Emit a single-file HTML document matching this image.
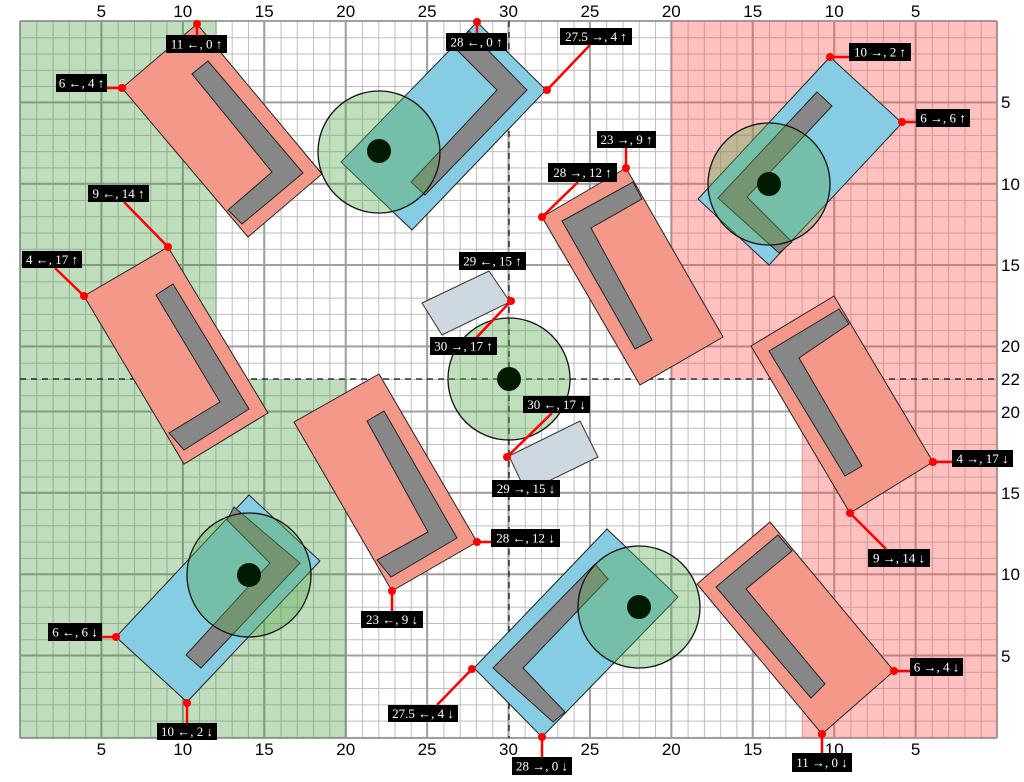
<!DOCTYPE html>
<html><head><meta charset="utf-8"><style>
html,body{margin:0;padding:0;background:#fff;}
svg{display:block;}
.lb rect{fill:#000;}
.lb text{fill:#fff;font-family:"Liberation Serif",serif;font-size:13px;text-anchor:middle;}
.ax{font-family:"Liberation Sans",sans-serif;font-size:17px;fill:#000;}
.sal{fill:#f4998a;stroke:#222;stroke-width:1;}
.blu{fill:#86cce3;stroke:#222;stroke-width:1;}
.ell{fill:#878787;stroke:#222;stroke-width:1;}
.cir{fill:rgba(90,170,80,0.38);stroke:#111;stroke-width:1.3;}
.pale{fill:#cdd8e0;stroke:#333;stroke-width:1;}
.ld{stroke:#f00;stroke-width:2.5;fill:none;}
.dt{fill:#f00;}
</style></head><body>
<svg width="1024" height="782" viewBox="0 0 1024 782" xmlns="http://www.w3.org/2000/svg">
<defs>
<pattern id="g" x="20" y="21" width="16.283" height="16.27" patternUnits="userSpaceOnUse">
<path d="M0 0.5H16.283M0.5 0V16.27" stroke="#bdbdbd" stroke-width="1"/>
</pattern>
</defs>
<rect x="20" y="21" width="977" height="717" fill="url(#g)"/>
<g stroke="#a0a0a0" stroke-width="2">
<line x1="20" y1="21" x2="20" y2="738"/><line x1="101.4" y1="21" x2="101.4" y2="738"/><line x1="182.8" y1="21" x2="182.8" y2="738"/><line x1="264.2" y1="21" x2="264.2" y2="738"/><line x1="345.7" y1="21" x2="345.7" y2="738"/><line x1="427.1" y1="21" x2="427.1" y2="738"/><line x1="508.5" y1="21" x2="508.5" y2="738"/><line x1="589.9" y1="21" x2="589.9" y2="738"/><line x1="671.3" y1="21" x2="671.3" y2="738"/><line x1="752.7" y1="21" x2="752.7" y2="738"/><line x1="834.2" y1="21" x2="834.2" y2="738"/><line x1="915.6" y1="21" x2="915.6" y2="738"/><line x1="997" y1="21" x2="997" y2="738"/>
<line x1="20" y1="21" x2="997" y2="21"/><line x1="20" y1="102.4" x2="997" y2="102.4"/><line x1="20" y1="183.7" x2="997" y2="183.7"/><line x1="20" y1="265" x2="997" y2="265"/><line x1="20" y1="346.4" x2="997" y2="346.4"/><line x1="20" y1="411.5" x2="997" y2="411.5"/><line x1="20" y1="492.8" x2="997" y2="492.8"/><line x1="20" y1="574.2" x2="997" y2="574.2"/><line x1="20" y1="655.5" x2="997" y2="655.5"/><line x1="20" y1="738" x2="997" y2="738"/>
</g>
<!-- regions -->
<path d="M20 21H217V379H347V738H20Z" fill="rgba(60,150,50,0.32)"/>
<path d="M671 21H997V738H802V379H671Z" fill="rgba(255,80,80,0.36)"/>
<!-- dashed -->
<line x1="509" y1="21" x2="509" y2="738" stroke="#111" stroke-width="1.3" stroke-dasharray="6,5"/>
<line x1="20" y1="379" x2="997" y2="379" stroke="#111" stroke-width="1.3" stroke-dasharray="6,5"/>

<!-- shapes -->
<polygon class="sal" points="197,24 122,88 248,237 322,174"/>
<polygon class="ell" points="208,61 303,173 242,224 228,210 272,172 192,74"/>

<polygon class="blu" points="477,22 546,90 412,230 341,162"/>
<polygon class="ell" points="469,31 527,90 425,195 411,182 497,90 452,45"/>
<circle class="cir" cx="379" cy="152" r="61"/>
<circle cx="379" cy="151" r="12" fill="#001a00"/>

<polygon class="sal" points="168,247 84,296 184,464 268,413"/>
<polygon class="ell" points="173,284 249,409 184,450 169,433 220,402 156,295"/>

<polygon class="sal" points="379,374 294,422 392,591 477,542"/>
<polygon class="ell" points="384,411 457,538 391,577 377,560 428,532 367,421"/>

<polygon class="blu" points="249,495 320,561 187,702 116,637"/>
<polygon class="ell" points="234,507 300,563 201,668 186,655 270,563 227,520"/>
<circle class="cir" cx="249" cy="575" r="62"/>
<circle cx="249" cy="575" r="12" fill="#001a00"/>

<polygon class="blu" points="607,529 678,597 542,737 474,668"/>
<polygon class="ell" points="595,564 608,579 523,668 565,712 553,722 493,668"/>
<circle class="cir" cx="639" cy="607" r="61"/>
<circle cx="639" cy="607" r="12" fill="#001a00"/>

<polygon class="sal" points="770,522 697,584 822,734 894,671"/>
<polygon class="ell" points="778,535 792,551 746,589 825,684 811,698 716,587"/>

<polygon class="sal" points="834,296 751,346 850,513 933,462"/>
<polygon class="ell" points="839,309 849,324 799,358 862,466 845,476 769,351"/>

<polygon class="sal" points="626,168 542,217 640,385 723,337"/>
<polygon class="ell" points="633,182 642,199 591,228 652,340 635,349 562,221"/>

<polygon class="blu" points="830,57 902,123 769,265 698,199"/>
<polygon class="ell" points="817,92 832,106 747,197 792,242 779,253 718,198"/>
<circle class="cir" cx="769" cy="184" r="61"/>
<circle cx="769" cy="184" r="12" fill="#001a00"/>

<polygon class="pale" points="422,303 489,271 510,302 442,335"/>
<polygon class="pale" points="509,456 580,421 598,457 526,492"/>
<circle class="cir" cx="509" cy="379" r="61"/>
<circle cx="509" cy="379" r="12" fill="#001a00"/>

<!-- leaders -->
<g class="ld">
<line x1="197" y1="24" x2="197" y2="36"/>
<line x1="122" y1="88" x2="107" y2="88"/>
<line x1="124" y1="202" x2="168" y2="247"/>
<line x1="55" y1="268" x2="84" y2="296"/>
<line x1="477" y1="22" x2="477" y2="34"/>
<line x1="511" y1="301" x2="476" y2="338"/>
<line x1="590" y1="45" x2="547" y2="90"/>
<line x1="830" y1="57" x2="849" y2="57"/>
<line x1="902" y1="122" x2="916" y2="122"/>
<line x1="626" y1="148" x2="626" y2="168"/>
<line x1="578" y1="182" x2="542" y2="217"/>
<line x1="552" y1="413" x2="507" y2="457"/>
<line x1="477" y1="542" x2="491" y2="542"/>
<line x1="392" y1="591" x2="392" y2="611"/>
<line x1="116" y1="637" x2="102" y2="637"/>
<line x1="187" y1="703" x2="187" y2="723"/>
<line x1="437" y1="705" x2="472" y2="669"/>
<line x1="542" y1="737" x2="542" y2="757"/>
<line x1="822" y1="734" x2="822" y2="753"/>
<line x1="894" y1="671" x2="910" y2="671"/>
<line x1="886" y1="549" x2="850" y2="513"/>
<line x1="933" y1="462" x2="952" y2="462"/>
</g>
<g class="dt">
<circle cx="197" cy="24" r="4"/><circle cx="122" cy="88" r="4"/><circle cx="168" cy="247" r="4"/><circle cx="84" cy="296" r="4"/>
<circle cx="477" cy="22" r="4"/><circle cx="511" cy="301" r="4"/><circle cx="547" cy="90" r="4"/><circle cx="830" cy="57" r="4"/>
<circle cx="902" cy="122" r="4"/><circle cx="626" cy="168" r="4"/><circle cx="542" cy="217" r="4"/><circle cx="507" cy="457" r="4"/>
<circle cx="477" cy="542" r="4"/><circle cx="392" cy="591" r="4"/><circle cx="116" cy="637" r="4"/><circle cx="187" cy="703" r="4"/>
<circle cx="472" cy="669" r="4"/><circle cx="542" cy="737" r="4"/><circle cx="822" cy="734" r="4"/><circle cx="894" cy="671" r="4"/>
<circle cx="850" cy="513" r="4"/><circle cx="933" cy="462" r="4"/>
</g>

<!-- labels -->
<g class="lb">
<rect x="166" y="35" width="61" height="18"/><text x="196.5" y="48.5">11 ←, 0 ↑</text>
<rect x="56" y="74" width="51" height="18"/><text x="81.5" y="87.5">6 ←, 4 ↑</text>
<rect x="88" y="185" width="61" height="17"/><text x="118.5" y="198">9 ←, 14 ↑</text>
<rect x="22" y="251" width="60" height="17"/><text x="52" y="264">4 ←, 17 ↑</text>
<rect x="446" y="33" width="61" height="18"/><text x="476.5" y="46.5">28 ←, 0 ↑</text>
<rect x="459" y="252" width="67" height="18"/><text x="492.5" y="265.5">29 ←, 15 ↑</text>
<rect x="430" y="337" width="67" height="18"/><text x="463.5" y="350.5">30 →, 17 ↑</text>
<rect x="560" y="28" width="72" height="17"/><text x="596" y="41">27.5 →, 4 ↑</text>
<rect x="849" y="43" width="62" height="18"/><text x="880" y="56.5">10 →, 2 ↑</text>
<rect x="916" y="109" width="54" height="18"/><text x="943" y="122.5">6 →, 6 ↑</text>
<rect x="597" y="131" width="59" height="17"/><text x="626.5" y="144">23 →, 9 ↑</text>
<rect x="548" y="163" width="69" height="19"/><text x="582.5" y="177">28 →, 12 ↑</text>
<rect x="523" y="396" width="67" height="17"/><text x="556.5" y="409">30 ←, 17 ↓</text>
<rect x="492" y="480" width="68" height="17"/><text x="526" y="493">29 →, 15 ↓</text>
<rect x="491" y="529" width="69" height="18"/><text x="525.5" y="542.5">28 ←, 12 ↓</text>
<rect x="361" y="611" width="62" height="17"/><text x="392" y="624">23 ←, 9 ↓</text>
<rect x="48" y="623" width="54" height="18"/><text x="75" y="636.5">6 ←, 6 ↓</text>
<rect x="157" y="723" width="60" height="17"/><text x="187" y="736">10 ←, 2 ↓</text>
<rect x="388" y="705" width="70" height="17"/><text x="423" y="718">27.5 ←, 4 ↓</text>
<rect x="512" y="757" width="60" height="18"/><text x="542" y="770.5">28 →, 0 ↓</text>
<rect x="792" y="753" width="60" height="19"/><text x="822" y="767">11 →, 0 ↓</text>
<rect x="910" y="658" width="53" height="18"/><text x="936.5" y="671.5">6 →, 4 ↓</text>
<rect x="868" y="549" width="62" height="18"/><text x="899" y="562.5">9 →, 14 ↓</text>
<rect x="952" y="450" width="61" height="17"/><text x="982.5" y="463">4 →, 17 ↓</text>
</g>

<!-- axes labels -->
<g class="ax" text-anchor="middle">
<text x="101.4" y="17">5</text><text x="182.8" y="17">10</text><text x="264.2" y="17">15</text><text x="345.7" y="17">20</text><text x="427.1" y="17">25</text><text x="508.5" y="17">30</text><text x="589.9" y="17">25</text><text x="671.3" y="17">20</text><text x="752.7" y="17">15</text><text x="834.2" y="17">10</text><text x="915.6" y="17">5</text>
<text x="101.4" y="755">5</text><text x="182.8" y="755">10</text><text x="264.2" y="755">15</text><text x="345.7" y="755">20</text><text x="427.1" y="755">25</text><text x="508.5" y="755">30</text><text x="589.9" y="755">25</text><text x="671.3" y="755">20</text><text x="752.7" y="755">15</text><text x="834.2" y="755">10</text><text x="915.6" y="755">5</text>
</g>
<g class="ax">
<text x="1001" y="108">5</text><text x="1001" y="190">10</text><text x="1001" y="271">15</text><text x="1001" y="352">20</text><text x="1001" y="385">22</text><text x="1001" y="418">20</text><text x="1001" y="499">15</text><text x="1001" y="580">10</text><text x="1001" y="662">5</text>
</g>
</svg>
</body></html>
